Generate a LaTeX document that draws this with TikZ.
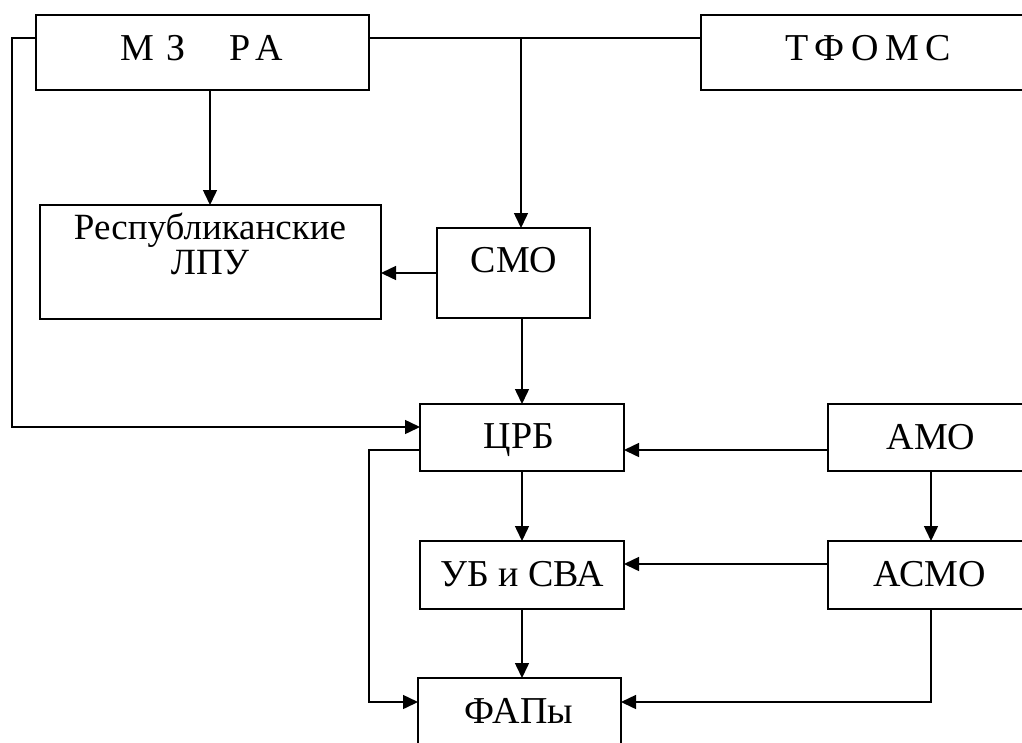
\documentclass[tikz,border=0pt]{standalone}
\usepackage{fontspec}
\setmainfont{Liberation Serif}
\usetikzlibrary{arrows.meta}
\begin{document}
\begin{tikzpicture}[x=1pt,y=-1pt,
  box/.style={draw,line width=1.8pt,inner sep=0pt,outer sep=0pt},
  conn/.style={line width=1.5pt},
  arr/.style={conn,-{Triangle[length=15pt,width=14pt]}},
  lbl/.style={inner sep=0pt,outer sep=0pt,anchor=center,text height=25pt,text depth=0pt},
  big/.style={font=\fontsize{38}{42}\selectfont},
  mid/.style={font=\fontsize{38}{42}\selectfont}]
\useasboundingbox (0,0) rectangle (1022,742);
\clip (0,0) rectangle (1022,742);
% boxes
\node[box,minimum width=333pt,minimum height=75pt] (mz) at (202.5,52.5) {};
\node[box,minimum width=334pt,minimum height=75pt] (tf) at (868,52.5) {};
\node[box,minimum width=341pt,minimum height=114pt] (rl) at (210.5,262) {};
\node[box,minimum width=153pt,minimum height=90pt] (smo) at (513.5,273) {};
\node[box,minimum width=204pt,minimum height=67pt] (crb) at (522,437.5) {};
\node[box,minimum width=206pt,minimum height=67pt] (amo) at (931,437.5) {};
\node[box,minimum width=204pt,minimum height=68pt] (ub) at (522,575) {};
\node[box,minimum width=206pt,minimum height=68pt] (asmo) at (931,575) {};
\node[box,minimum width=203pt,minimum height=68pt] (fap) at (519.5,712) {};
% labels
\node[lbl,big] (mzt) at (202,47.5) {М\hspace{3pt} З\hspace{34pt} Р\hspace{-4pt} А};
\node[lbl,big] (tft) at (868,47.5) {Т\hspace{-3pt} Ф\hspace{-3pt} О\hspace{-3pt} М\hspace{-3pt} С};
\node[inner sep=0pt,outer sep=0pt,align=center,font=\fontsize{37}{35}\selectfont] (rlt) at (210,244) {Республиканские\\ЛПУ};
\node[lbl,mid] (smot) at (514,260) {СМО};
\node[lbl,mid] (crbt) at (519,436) {ЦРБ};
\node[lbl,mid] (amot) at (931,437) {АМО};
\node[lbl,mid] (ubt) at (522,574) {УБ и СВА};
\node[lbl,mid] (asmot) at (930,574) {АСМО};
\node[lbl,mid] (fapt) at (519,711) {ФАПы};
% helper coordinates
\coordinate (topline) at (0,38);
\coordinate (lft) at (12,0);
\coordinate (lft2) at (369,0);
\coordinate (jx) at (521,38);
% connectors
\draw[conn] (mz.east |- topline) -- (tf.west |- topline);
\draw[arr] (jx) -- (jx |- smo.north);
\draw[arr] ([xshift=7.5pt]mz.south) -- ([xshift=7.5pt]mz.south |- rl.north);
\draw[arr] (smo.west) -- (rl.east |- smo.west);
\draw[arr] (crb.north |- smo.south) -- (crb.north);
\draw[arr] (mz.west |- topline) -| ([yshift=10.5pt]crb.west -| lft) -- ([yshift=10.5pt]crb.west);
\draw[arr] ([yshift=-12.5pt]amo.west) -- ([yshift=-12.5pt]crb.east);
\draw[arr] ([yshift=-12.5pt]crb.west) -| ([yshift=10pt]fap.west -| lft2) -- ([yshift=10pt]fap.west);
\draw[arr] (crb.south) -- (ub.north);
\draw[arr] (amo.south) -- (asmo.north);
\draw[arr] ([yshift=11pt]asmo.west) -- ([yshift=11pt]ub.east);
\draw[arr] (ub.south) -- (ub.south |- fap.north);
\draw[arr] (asmo.south) |- ([yshift=10pt]fap.east);
\end{tikzpicture}
\end{document}
